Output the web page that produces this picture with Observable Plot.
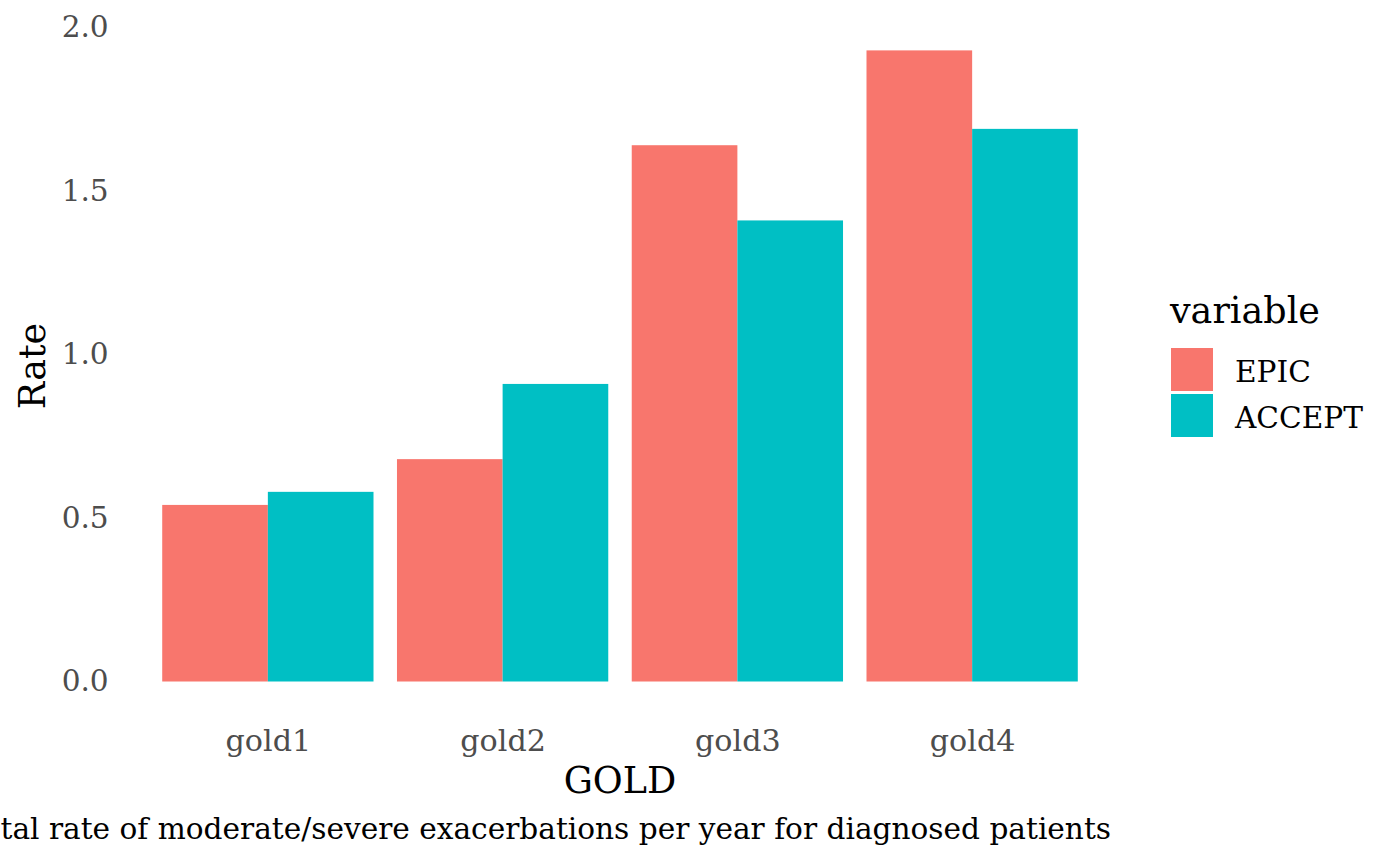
<!DOCTYPE html>
<html>
<head>
<meta charset="utf-8">
<script src="https://cdn.jsdelivr.net/npm/d3@7"></script>
<script src="https://cdn.jsdelivr.net/npm/@observablehq/plot@0.6"></script>
<style>
  html, body { margin: 0; padding: 0; background: #fff; }
  #wrap { position: relative; width: 1400px; height: 865px; overflow: hidden; font-family: "DejaVu Serif", serif; }
  #wrap svg.overlay { position: absolute; left: 0; top: 0; pointer-events: none; }
  #chart { position: absolute; left: 0; top: 0; }
</style>
</head>
<body>
<div id="wrap"><div id="chart"></div></div>
<script>
const categories = ["gold1", "gold2", "gold3", "gold4"];
const seriesNames = ["EPIC", "ACCEPT"];
const epicValues = [0.54, 0.68, 1.64, 1.93];
const acceptValues = [0.58, 0.91, 1.41, 1.69];
const yTicks = [0, 0.5, 1.0, 1.5, 2.0];
const seriesColors = ["#F8766D", "#00BFC4"];
const xTitle = "GOLD";
const yTitle = "Rate";
const legendTitle = "variable";
const captionText = "Total rate of moderate/severe exacerbations per year for diagnosed patients";

const data = [];
categories.forEach((g, i) => {
  data.push({GOLD: g, variable: "EPIC", Rate: epicValues[i]});
  data.push({GOLD: g, variable: "ACCEPT", Rate: acceptValues[i]});
});

const W = 1400, H = 865;
const left = 127, right = 1113, y0px = 681.5, y2px = 27.5;
const small = 29.6, big = 36.5;

const plot = Plot.plot({
  width: W,
  height: H,
  marginLeft: left,
  marginRight: W - right,
  marginTop: y2px,
  marginBottom: H - y0px,
  style: {fontFamily: "DejaVu Serif", background: "#fff"},
  fx: {domain: categories, paddingInner: 0.1, paddingOuter: 0.15, round: false, label: null},
  x: {domain: seriesNames, padding: 0, round: false, axis: null},
  y: {domain: [0, 2], label: null},
  color: {domain: seriesNames, range: seriesColors},
  marks: [
    Plot.barY(data, {fx: "GOLD", x: "variable", y: "Rate", fill: "variable", insetLeft: 0, insetRight: 0}),
    Plot.axisY({ticks: yTicks, tickSize: 0, tickPadding: 54, fontSize: small, fill: "#4D4D4D", label: null, tickFormat: d => d.toFixed(1)}),
    Plot.axisFx({anchor: "bottom", tickSize: 0, tickPadding: 47.5, fontSize: 30.2, fill: "#4D4D4D", label: null})
  ]
});
document.getElementById("chart").appendChild(plot);

// overlay: axis titles, legend, caption
const ov = d3.select("#wrap").append("svg").attr("class", "overlay")
  .attr("width", W).attr("height", H)
  .style("font-family", "'DejaVu Serif', serif");

ov.append("text").text(xTitle)
  .attr("x", (left + right) / 2).attr("y", 793)
  .attr("text-anchor", "middle").attr("font-size", big).attr("fill", "#000");

ov.append("text").text(yTitle)
  .attr("transform", `translate(45,366) rotate(-90)`)
  .attr("text-anchor", "middle").attr("font-size", big).attr("fill", "#000");

ov.append("text").text(legendTitle)
  .attr("x", 1170).attr("y", 323)
  .attr("font-size", big).attr("fill", "#000");

const keyY = [348, 394];
seriesNames.forEach((s, i) => {
  ov.append("rect").attr("x", 1171).attr("y", keyY[i]).attr("width", 42).attr("height", 43)
    .attr("fill", seriesColors[i]);
  ov.append("text").text(s)
    .attr("x", 1235).attr("y", keyY[i] + 34)
    .attr("font-size", small).attr("fill", "#000");
});

ov.append("text").text(captionText)
  .attr("x", 1111).attr("y", 839)
  .attr("text-anchor", "end").attr("font-size", small).attr("fill", "#000");
</script>
</body>
</html>
